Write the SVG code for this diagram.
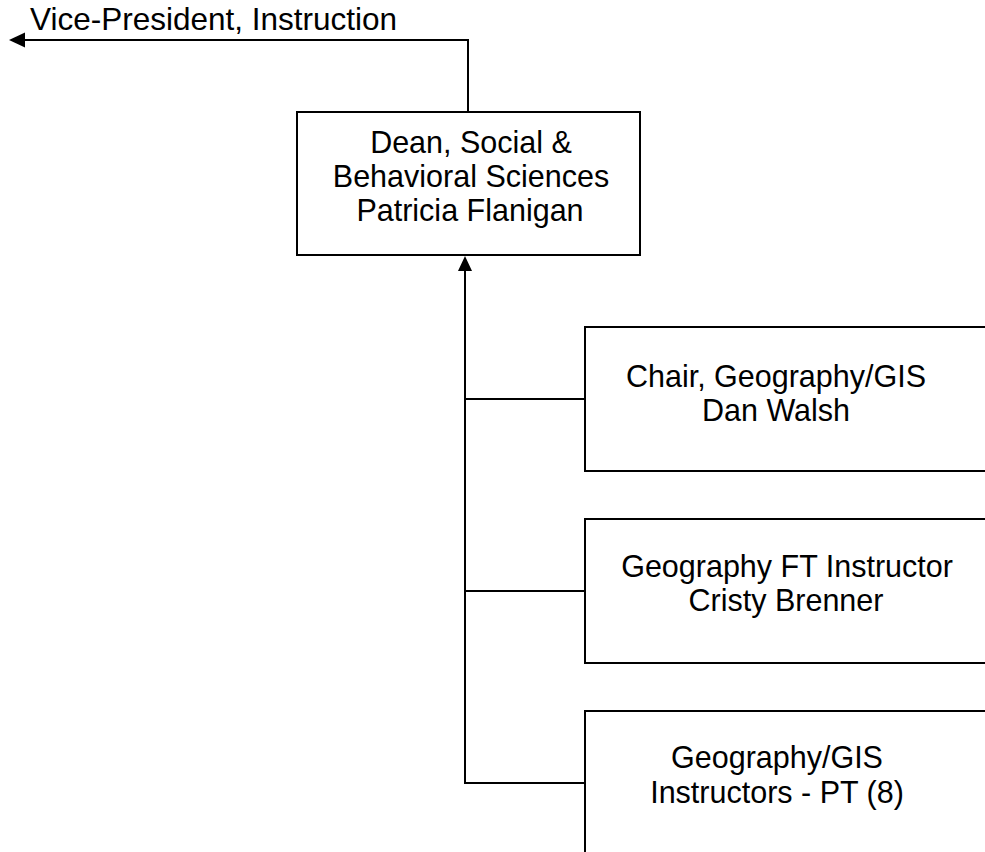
<svg xmlns="http://www.w3.org/2000/svg" width="985" height="852" viewBox="0 0 985 852">
<defs>
<style>
text{font-family:"Liberation Sans",Arial,sans-serif;font-size:30.5px;fill:#000}
.c{text-anchor:middle}
.box{fill:#fff;stroke:#000;stroke-width:2}
.ln{fill:none;stroke:#000;stroke-width:2}
.ah{fill:#000;stroke:none}
</style>
</defs>
<rect width="985" height="852" fill="#fff"/>
<g id="connectors">
<path class="ln" d="M468,112 V40 H22"/>
<polygon class="ah" points="9,40 25,32.5 25,47.5"/>
<path class="ln" d="M465,783 V268"/>
<polygon class="ah" points="465,256 458,271 472,271"/>
<path class="ln" d="M464,399 H585 M464,591 H585 M464,783 H585"/>
</g>
<g id="vp">
<text x="30" y="30" style="font-size:31.5px">Vice-President, Instruction</text>
</g>
<g id="dean">
<rect class="box" x="297" y="112" width="343" height="143"/>
<text class="c" x="471" y="153">Dean, Social &amp;</text>
<text class="c" x="471" y="187">Behavioral Sciences</text>
<text class="c" x="470" y="221">Patricia Flanigan</text>
</g>
<g id="chair">
<rect class="box" x="585" y="327" width="420" height="144"/>
<text class="c" x="776" y="387">Chair, Geography/GIS</text>
<text class="c" x="776" y="421">Dan Walsh</text>
</g>
<g id="ft">
<rect class="box" x="585" y="519" width="420" height="144"/>
<text class="c" x="787" y="577">Geography FT Instructor</text>
<text class="c" x="786" y="611">Cristy Brenner</text>
</g>
<g id="pt">
<rect class="box" x="585" y="711" width="420" height="160"/>
<text class="c" x="777" y="768">Geography/GIS</text>
<text class="c" x="777" y="803">Instructors - PT (8)</text>
</g>
</svg>
